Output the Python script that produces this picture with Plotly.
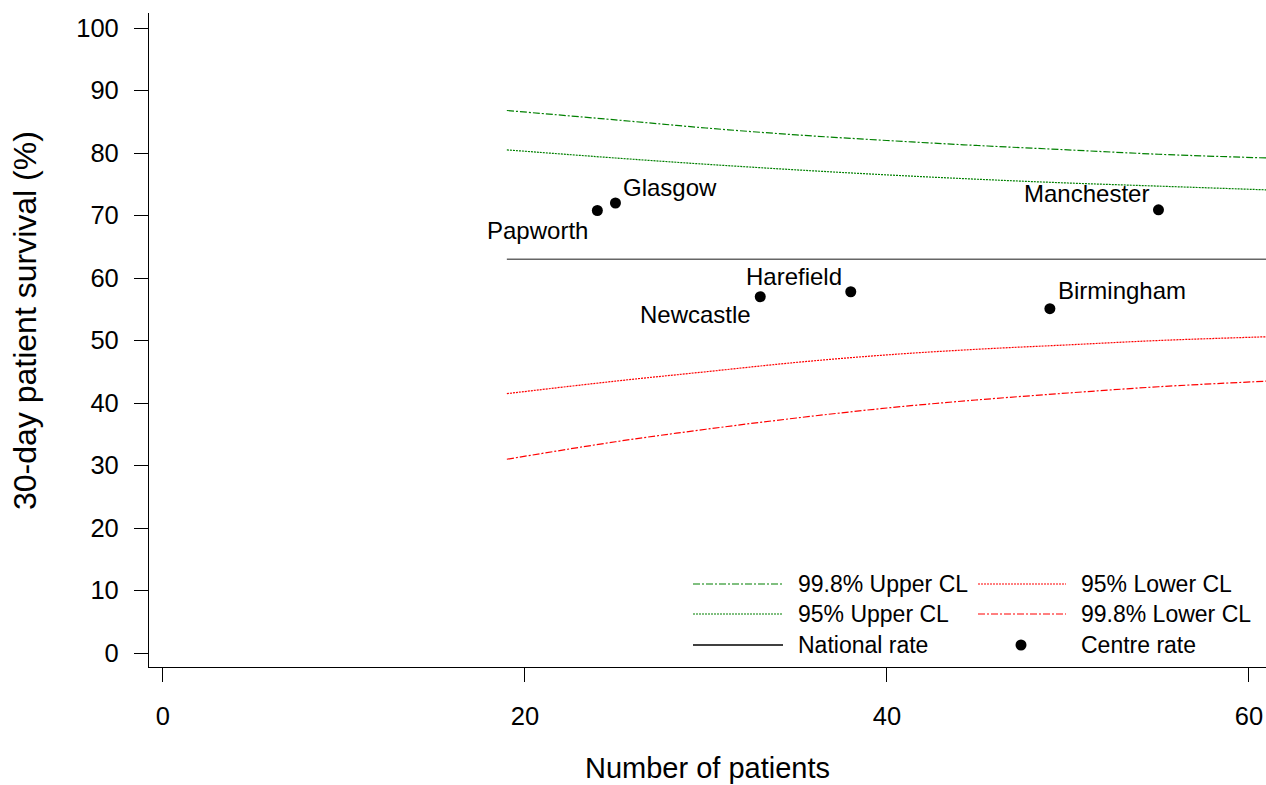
import plotly.graph_objects as go

# Funnel limits by number of patients (%)
n_patients = [19, 25, 30, 35, 40, 45, 50, 55, 61]
upper_998 = [86.8, 85.3, 84.0, 82.9, 82.0, 81.2, 80.5, 79.8, 79.2]
upper_95 = [80.5, 79.2, 78.2, 77.3, 76.5, 75.8, 75.2, 74.7, 74.1]
lower_95 = [41.5, 43.5, 45.0, 46.5, 47.7, 48.6, 49.3, 50.0, 50.6]
lower_998 = [31.0, 33.8, 35.8, 37.6, 39.2, 40.5, 41.6, 42.6, 43.5]
national_rate = 63.0

# Centre results
centres = ["Papworth", "Glasgow", "Newcastle", "Harefield", "Birmingham", "Manchester"]
centre_n = [24, 25, 33, 38, 49, 55]
centre_survival = [70.8, 72.0, 57.0, 57.8, 55.1, 70.9]
# label placement: (xanchor, xshift, yshift)
label_pos = [("right", -7, -20), ("left", 6, 16), ("right", -7, -18),
             ("right", -7, 15), ("left", 6, 18), ("right", -7, 16)]

x_ticks = [0, 20, 40, 60]
y_ticks = [0, 10, 20, 30, 40, 50, 60, 70, 80, 90, 100]

GREEN = "#008000"
RED = "#ff0000"
DASHDOT = "7px,2px,2px,2px"
DOT = "2px,1px"
FONT = "Liberation Sans, Arial, sans-serif"

fig = go.Figure()

fig.add_trace(go.Scatter(x=n_patients, y=upper_998, mode="lines", line_shape="spline",
                         line=dict(color=GREEN, width=1.2, dash=DASHDOT), showlegend=False))
fig.add_trace(go.Scatter(x=n_patients, y=upper_95, mode="lines", line_shape="spline",
                         line=dict(color=GREEN, width=1.2, dash=DOT), showlegend=False))
fig.add_trace(go.Scatter(x=[n_patients[0], n_patients[-1]], y=[national_rate, national_rate],
                         mode="lines", line=dict(color="#666666", width=1.3), showlegend=False))
fig.add_trace(go.Scatter(x=n_patients, y=lower_95, mode="lines", line_shape="spline",
                         line=dict(color=RED, width=1.2, dash=DOT), showlegend=False))
fig.add_trace(go.Scatter(x=n_patients, y=lower_998, mode="lines", line_shape="spline",
                         line=dict(color=RED, width=1.2, dash=DASHDOT), showlegend=False))
fig.add_trace(go.Scatter(x=centre_n, y=centre_survival, mode="markers",
                         marker=dict(color="black", size=11), showlegend=False))

for name, xv, yv, (xa, xs, ys) in zip(centres, centre_n, centre_survival, label_pos):
    fig.add_annotation(x=xv, y=yv, text=name, showarrow=False, xanchor=xa, yanchor="middle",
                       xshift=xs, yshift=ys, font=dict(size=24, color="black", family=FONT))

# Plotting area in pixels
L, T, W, H = 149, 13, 1117, 654


def px(xp):
    return (xp - L) / W


def py(yp):
    return (T + H - yp) / H


# Key, drawn in paper coordinates of the plotting area
key_items = [
    ("99.8% Upper CL", 693, 783, 584, GREEN, DASHDOT, "line"),
    ("95% Upper CL", 693, 783, 614, GREEN, DOT, "line"),
    ("National rate", 693, 783, 645, "black", "solid", "line"),
    ("95% Lower CL", 978, 1066, 584, RED, DOT, "line"),
    ("99.8% Lower CL", 978, 1066, 614, RED, DASHDOT, "line"),
    ("Centre rate", 978, 1066, 645, "black", None, "dot"),
]
for label, x0, x1, yy, col, dash, kind in key_items:
    if kind == "line":
        w = 1.6 if dash == "solid" else 1.2
        fig.add_shape(type="line", xref="paper", yref="paper", x0=px(x0), x1=px(x1),
                      y0=py(yy), y1=py(yy), line=dict(color=col, width=w, dash=dash))
    else:
        xc = px(1021)
        fig.add_shape(type="circle", xref="paper", yref="paper", xsizemode="pixel",
                      ysizemode="pixel", xanchor=xc, yanchor=py(yy), x0=-5.5, x1=5.5,
                      y0=-5.5, y1=5.5, fillcolor="black", line=dict(color="black", width=0))
    fig.add_annotation(xref="paper", yref="paper", x=px(x1 + 13), y=py(yy), text=label,
                       showarrow=False, xanchor="left", yanchor="middle",
                       font=dict(size=23, color="black", family=FONT))

# Vertical axis title
fig.add_annotation(xref="paper", yref="paper", x=px(25), y=py(321), textangle=-90,
                   text="30-day patient survival (%)", showarrow=False,
                   xanchor="center", yanchor="middle",
                   font=dict(size=32, color="black", family=FONT))

axis_common = dict(showgrid=False, zeroline=False, showline=True, linecolor="black",
                   linewidth=1.3, ticks="outside", ticklen=14, tickwidth=1.3,
                   tickcolor="black", tickfont=dict(size=25.5, color="black", family=FONT))

fig.update_xaxes(range=[-0.77, 60.94], tickvals=x_ticks, ticklabelstandoff=12,
                 title=dict(text="Number of patients", standoff=28,
                            font=dict(size=29, color="black", family=FONT)),
                 **axis_common)
fig.update_yaxes(range=[-2.24, 102.4], tickvals=y_ticks, ticklabelstandoff=10,
                 **axis_common)

fig.update_layout(width=1266, height=785, margin=dict(l=L, r=0, t=T, b=785 - T - H),
                  paper_bgcolor="white", plot_bgcolor="white", showlegend=False)

fig.write_html("out.html")
